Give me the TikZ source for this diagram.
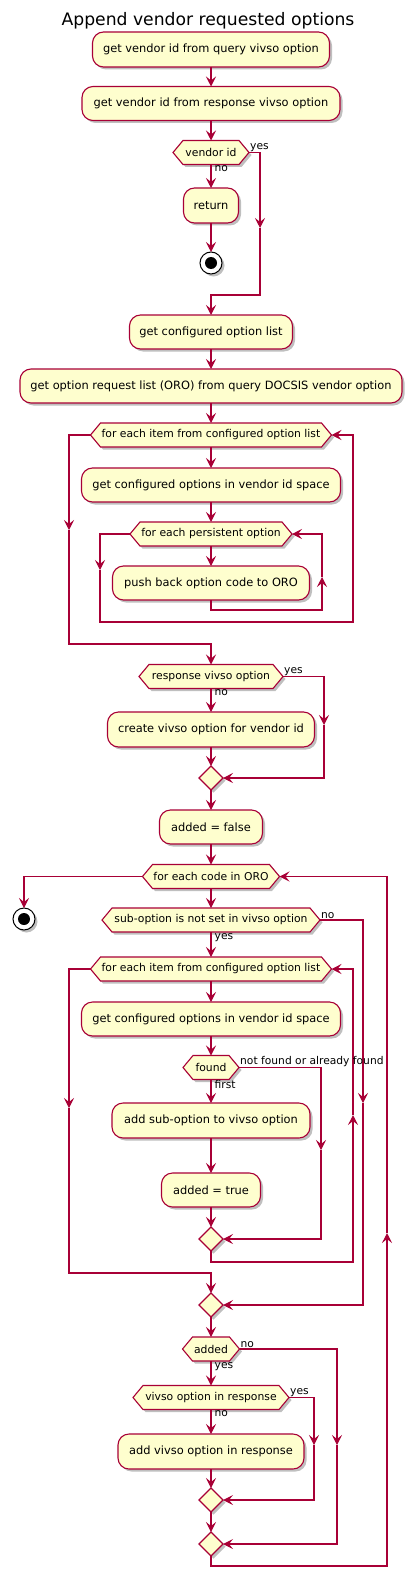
\documentclass[tikz,border=0pt]{standalone}
\usepackage{fontspec}
\setmainfont{DejaVu Sans}
\usetikzlibrary{arrows.meta,shapes.geometric,shadows}
\definecolor{pl}{HTML}{A80036}
\definecolor{pf}{HTML}{FEFECE}
\tikzset{
  shad/.style={drop shadow={shadow xshift=2.5pt,shadow yshift=-2.5pt,opacity=0.25,fill=black}},
  ln/.style={draw=pl,line width=1.1pt},
  arr/.style={ln,-{Stealth[length=10pt,width=10pt,inset=4pt]}},
  box/.style={draw=pl,fill=pf,line width=1.1pt,rounded corners=11pt,inner sep=0pt,outer sep=0pt,
    font=\fontsize{11.4}{13}\selectfont,shad},
  hexshape/.style={draw=pl,fill=pf,line width=1.1pt,shad},
  hextext/.style={rectangle,inner sep=0pt,outer sep=0pt,font=\fontsize{10.8}{12}\selectfont},
  merge/.style={diamond,draw=pl,fill=pf,line width=1.1pt,minimum width=24,minimum height=24,
    inner sep=0pt,outer sep=0pt,shad},
  stopo/.style={circle,draw=black,fill=white,line width=1pt,minimum size=22,inner sep=0pt,outer sep=0pt,shad},
  lbl/.style={inner sep=1pt,font=\fontsize{10.7}{12}\selectfont},
  lblr/.style={lbl,anchor=south west},
  lbld/.style={lbl,anchor=north west,xshift=2.5pt},
}
% name, cx, cy, halfwidth, text
\newcommand\hexa[5]{%
  \path[hexshape] ({#2-#4},{#3}) -- ({#2-#4+10},{#3-12}) -- ({#2+#4-10},{#3-12}) -- ({#2+#4},{#3})
     -- ({#2+#4-10},{#3+12}) -- ({#2-#4+10},{#3+12}) -- cycle;
  \node[hextext,minimum width={2*#4},minimum height=24] (#1) at (#2,#3) {#5};
}
\begin{document}
\begin{tikzpicture}[x=1pt,y=-1pt]
\useasboundingbox (0,0) rectangle (417,1589);

\node[font=\fontsize{17.2}{20}\selectfont] (title) at (208,21) {Append vendor requested options};

\node[box,minimum width=237,minimum height=35] (b1) at (211,49.5) {get vendor id from query vivso option};
\node[box,minimum width=258,minimum height=34] (b2) at (211,103.5) {get vendor id from response vivso option};
\hexa{h1}{211}{152.5}{38}{vendor id}
\node[box,minimum width=55,minimum height=35] (b3) at (211,205.5) {return};
\node[stopo] (s1) at (211,263) {};
\fill[black] (s1.center) circle (6pt);

\node[box,minimum width=163,minimum height=34] (b4) at (211,332) {get configured option list};
\node[box,minimum width=382,minimum height=34] (b5) at (211,386) {get option request list (ORO) from query DOCSIS vendor option};
\hexa{h2}{211}{435}{120.5}{for each item from configured option list}
\node[box,minimum width=259,minimum height=34] (b6) at (211,485) {get configured options in vendor id space};
\hexa{h3}{211}{534}{81}{for each persistent option}
\node[box,minimum width=197,minimum height=34] (b7) at (211,583) {push back option code to ORO};

\hexa{h4}{211}{676.5}{72}{response vivso option}
\node[box,minimum width=207,minimum height=35] (b8) at (211,729.5) {create vivso option for vendor id};
\node[merge] (m1) at (211,778) {};
\node[box,minimum width=103,minimum height=34] (b9) at (211,827) {added = false};
\hexa{h5}{211}{876.5}{68.5}{for each code in ORO}
\node[stopo] (s2) at (24,919) {};
\fill[black] (s2.center) circle (6pt);
\hexa{h6}{211}{920}{109}{sub-option is not set in vivso option}
\hexa{h7}{211}{969}{120.5}{for each item from configured option list}
\node[box,minimum width=259,minimum height=34] (b10) at (211,1019) {get configured options in vendor id space};
\hexa{h8}{211}{1067.5}{28}{found}
\node[box,minimum width=198,minimum height=35] (b11) at (211,1120.5) {add sub-option to vivso option};
\node[box,minimum width=99,minimum height=34] (b12) at (211,1190) {added = true};
\node[merge] (m2) at (211,1239) {};
\node[merge] (m3) at (211,1305) {};
\hexa{h9}{211}{1349}{28.5}{added}
\hexa{h10}{211}{1397.5}{78}{vivso option in response}
\node[box,minimum width=186,minimum height=35] (b13) at (211,1451.5) {add vivso option in response};
\node[merge] (m4) at (211,1500) {};
\node[merge] (m5) at (211,1544) {};

% connectors
\draw[arr] (b1.south) -- (b2.north);
\draw[arr] (b2.south) -- (h1.north);
\draw[arr] (h1.south) -- (b3.north);
\draw[arr] (b3.south) -- (s1.north);
\coordinate (c1) at (260,228);
\draw[arr] (h1.east) -| (c1);
\draw[arr] (c1) |- (211,295) -- (b4.north);
\draw[arr] (b4.south) -- (b5.north);
\draw[arr] (b5.south) -- (h2.north);
\draw[arr] (h2.south) -- (b6.north);
\draw[arr] (b6.south) -- (h3.north);
\draw[arr] (h3.south) -- (b7.north);
\coordinate (c2) at (322,577);
\draw[arr] (b7.south) -- (211,610) -| (c2);
\draw[arr] (c2) |- (h3.east);
\coordinate (c3) at (100,570);
\draw[arr] (h3.west) -| (c3);
\draw[arr] (c3) |- (353,622) |- (h2.east);
\coordinate (c4) at (69,530);
\draw[arr] (h2.west) -| (c4);
\draw[arr] (c4) |- (211,644) -- (h4.north);
\draw[arr] (h4.south) -- (b8.north);
\coordinate (c5) at (324,725);
\draw[arr] (h4.east) -| (c5);
\draw[arr] (c5) |- (m1.east);
\draw[arr] (b8.south) -- (m1.north);
\draw[arr] (m1.south) -- (b9.north);
\draw[arr] (b9.south) -- (h5.north);
\draw[arr] (h5.west) -| (s2.north);
\draw[arr] (h5.south) -- (h6.north);
\coordinate (c6) at (363,1103);
\draw[arr] (h6.east) -| (c6);
\draw[arr] (c6) |- (m3.east);
\draw[arr] (h6.south) -- (h7.north);
\draw[arr] (h7.south) -- (b10.north);
\draw[arr] (b10.south) -- (h8.north);
\draw[arr] (h8.south) -- (b11.north);
\coordinate (c7) at (321,1150);
\draw[arr] (h8.east) -| (c7);
\draw[arr] (c7) |- (m2.east);
\draw[arr] (b11.south) -- (b12.north);
\draw[arr] (b12.south) -- (m2.north);
\coordinate (c8) at (353,1115);
\draw[arr] (m2.south) -- (211,1262) -| (c8);
\draw[arr] (c8) |- (h7.east);
\coordinate (c9) at (69,1108);
\draw[arr] (h7.west) -| (c9);
\draw[arr] (c9) |- (211,1273) -- (m3.north);
\draw[arr] (m3.south) -- (h9.north);
\coordinate (c10) at (337,1445);
\draw[arr] (h9.east) -| (c10);
\draw[arr] (c10) |- (m5.east);
\draw[arr] (h9.south) -- (h10.north);
\coordinate (c11) at (314,1445);
\draw[arr] (h10.east) -| (c11);
\draw[arr] (c11) |- (m4.east);
\draw[arr] (h10.south) -- (b13.north);
\draw[arr] (b13.south) -- (m4.north);
\draw[arr] (m4.south) -- (m5.north);
\coordinate (c12) at (387,1233);
\draw[arr] (m5.south) -- (211,1566) -| (c12);
\draw[arr] (c12) |- (h5.east);

% labels
\node[lblr] (l1) at (h1.east) {yes};
\node[lbld] (l2) at (h1.south) {no};
\node[lblr] (l3) at (h4.east) {yes};
\node[lbld] (l4) at (h4.south) {no};
\node[lblr] (l5) at (h6.east) {no};
\node[lbld] (l6) at (h6.south) {yes};
\node[lblr] (l7) at (h8.east) {not found or already found};
\node[lbld] (l8) at (h8.south) {first};
\node[lblr] (l9) at (h9.east) {no};
\node[lbld] (l10) at (h9.south) {yes};
\node[lblr] (l11) at (h10.east) {yes};
\node[lbld] (l12) at (h10.south) {no};
\end{tikzpicture}
\end{document}
